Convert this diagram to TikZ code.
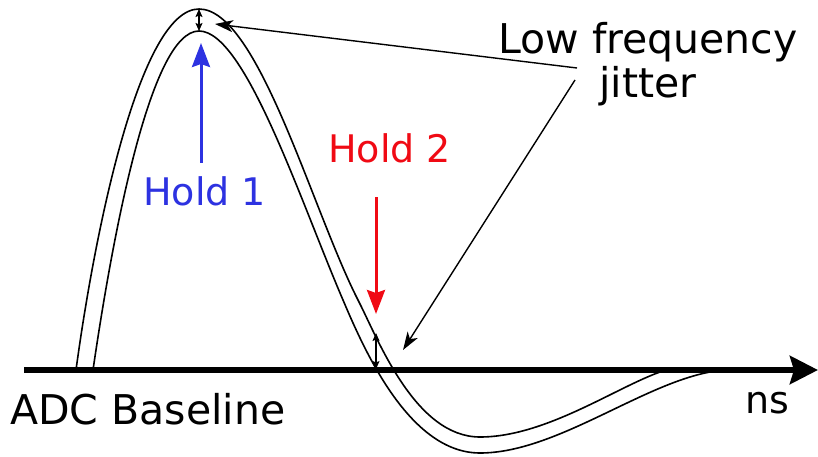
\documentclass[tikz,border=0pt]{standalone}
\usepackage{fontspec}
\setmainfont{DejaVu Sans}
\usetikzlibrary{arrows.meta}
\definecolor{holdblue}{RGB}{45,50,225}
\definecolor{holdred}{RGB}{240,10,20}

\tikzset{
  pulse/.style={line width=1.6pt},
  lbl/.style={font=\fontsize{38}{44}\selectfont, inner sep=0pt},
  biglbl/.style={font=\fontsize{41}{44}\selectfont, inner sep=0pt},
  baseaxis/.style={line width=6pt, -{Stealth[length=28pt, width=28pt, inset=4pt]}},
  holdarrow/.style={line width=3pt, -{Stealth[length=24pt, width=18pt, inset=3pt]}},
  jitterarrow/.style={line width=1.4pt, -{Stealth[length=18pt, width=12pt, inset=5pt]}},
  gaparrow/.style={line width=1.1pt, {Stealth[length=8pt, width=7pt, inset=1.5pt]}-{Stealth[length=8pt, width=7pt, inset=1.5pt]}}
}

\begin{document}
\begin{tikzpicture}[x=1pt, y=-1pt]
  \useasboundingbox (0,0) rectangle (818,457);
  % the two pulses
  \draw[pulse] (76,370) .. controls (95,230) and (140,9) .. (199,9)
    .. controls (258,9) and (312,210) .. (358,300)
    .. controls (378,339) and (415,437) .. (480,437)
    .. controls (545,437) and (615,388) .. (660,372);
  \draw[pulse] (93,370) .. controls (112,240) and (150,31) .. (199,31)
    .. controls (245,31) and (300,200) .. (343,300)
    .. controls (365,352) and (410,453) .. (480,453)
    .. controls (555,453) and (640,385) .. (710,372);
  % baseline
  \coordinate (base0) at (24,370);
  \coordinate (base1) at (818,370);
  \draw[baseaxis] (base0) -- (base1);
  \node[biglbl, anchor=base west] (adc) at (10,424) {ADC Baseline};
  \node[lbl, anchor=base west] (ns) at (745,413) {ns};
  % jitter gaps
  \coordinate (peakO) at (199,9);
  \coordinate (peakI) at (199,31);
  \coordinate (crossO) at (376,333);
  \coordinate (crossI) at (376,369);
  \draw[gaparrow] (peakO) -- (peakI);
  \draw[gaparrow] (crossO) -- (crossI);
  % hold points
  \node[lbl, text=holdblue, anchor=base west] (hold1) at (143,205) {Hold 1};
  \node[lbl, text=holdred, anchor=base west] (hold2) at (328,162) {Hold 2};
  \coordinate (h1from) at (201,163);
  \coordinate (h1to) at (201,43);
  \coordinate (h2from) at (376,197);
  \coordinate (h2to) at (376,314);
  \draw[holdarrow, holdblue] (h1from) -- (h1to);
  \draw[holdarrow, holdred] (h2from) -- (h2to);
  % low frequency jitter
  \node[biglbl, align=center] (lfj) at (648,64) {Low frequency\\jitter};
  \coordinate (lfj1) at (577,68);
  \coordinate (lfj2) at (575,80);
  \coordinate (tipA) at (215,24);
  \coordinate (tipB) at (403,350);
  \draw[jitterarrow] (lfj1) -- (tipA);
  \draw[jitterarrow] (lfj2) -- (tipB);
\end{tikzpicture}
\end{document}
